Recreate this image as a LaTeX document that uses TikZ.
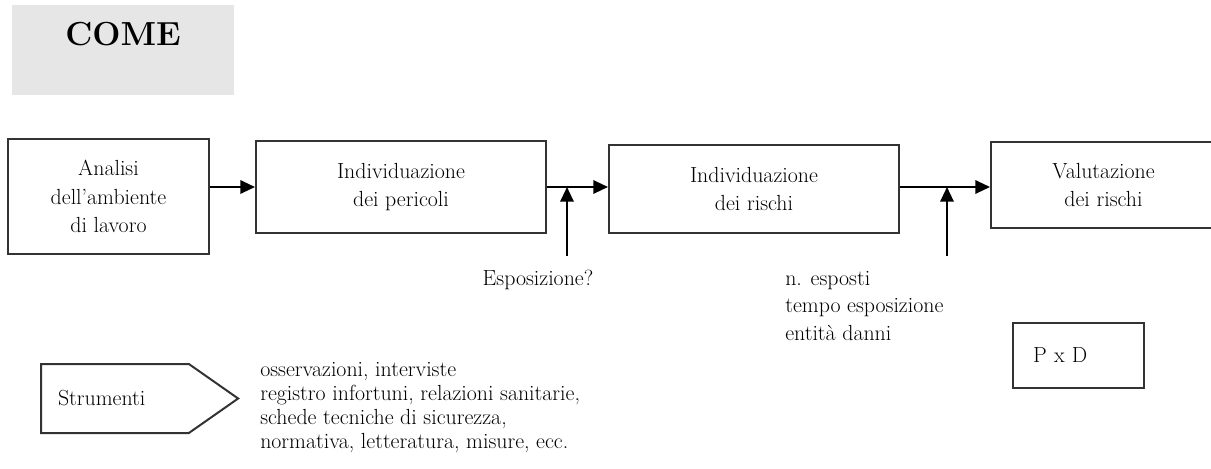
\documentclass[tikz,border=0pt]{standalone}
\usepackage{tikz}
\usetikzlibrary{shapes.symbols, arrows.meta, positioning}

\definecolor{comegray}{RGB}{230,230,230}
\tikzstyle{box} = [rectangle, draw=black!80, line width=1.5pt, align=center, font=\fontsize{16.4}{21.4}\selectfont]
\tikzstyle{note} = [inner sep=0pt, align=left, font=\fontsize{16.4}{20.6}\selectfont]
\tikzstyle{tool} = [signal, signal to=east, signal pointer angle=70, draw=black!80, line width=1.5pt, text width=85.5pt, align=left, font=\fontsize{16.4}{20}\selectfont]
\tikzstyle{arrow} = [line width=1.6pt,->,>={Triangle[length=11pt,width=10pt]}]

\begin{document}
\begin{tikzpicture}[x=0.75pt, y=-0.75pt]
\useasboundingbox (0,0) rectangle (1211,468);

\node [fill=comegray, anchor=north, minimum width=166.5pt, inner ysep=12.75pt, text height=17.5pt, text depth=24pt, font=\fontsize{25}{30}\selectfont\bfseries] (come) at (123,5) {COME};

% catena principale
\node [box, minimum width=150.75pt, minimum height=86.25pt] (ana) at (108.5,196.5) {Analisi\\dell'ambiente\\di lavoro};
\node [box, minimum width=217.5pt, minimum height=69pt] (per) at (401,187) {Individuazione\\dei pericoli};
\node [box, minimum width=217.5pt, minimum height=66pt] (ris) at (754,189) {Individuazione\\dei rischi};
\node [box, minimum width=168.75pt, minimum height=64.5pt] (val) at (1103.5,185) {Valutazione\\dei rischi};

\coordinate (espin) at (567,256);
\coordinate (danin) at (947,256);

\draw [arrow] (ana.east |- per.east) -- (per.west);
\draw [arrow] (per.east) -- (ris.west |- per.east);
\draw [arrow] (ris.east |- per.east) -- (val.west |- per.east);
\draw [arrow] (espin) -- (espin |- per.east);
\draw [arrow] (danin) -- (danin |- per.east);

\node [note] (espo) at (538,280) {Esposizione?};
\node [note, anchor=west] (danni) at (785,306) {n. esposti\\tempo esposizione\\entità danni};

\node [box, minimum height=48.75pt, text width=68.25pt, inner xsep=15pt, align=left] (pxd) at (1078.5,355.5) {P x D};

% strumenti
\node [tool, minimum width=147.75pt, minimum height=51.75pt] (strum) at (115,398.5) {Strumenti};
\node [note, anchor=west, font=\fontsize{16.4}{18}\selectfont] (strumlist) at (260,407.5) {osservazioni, interviste\\registro infortuni, relazioni sanitarie,\\schede tecniche di sicurezza,\\normativa, letteratura, misure, ecc.};

\end{tikzpicture}
\end{document}
